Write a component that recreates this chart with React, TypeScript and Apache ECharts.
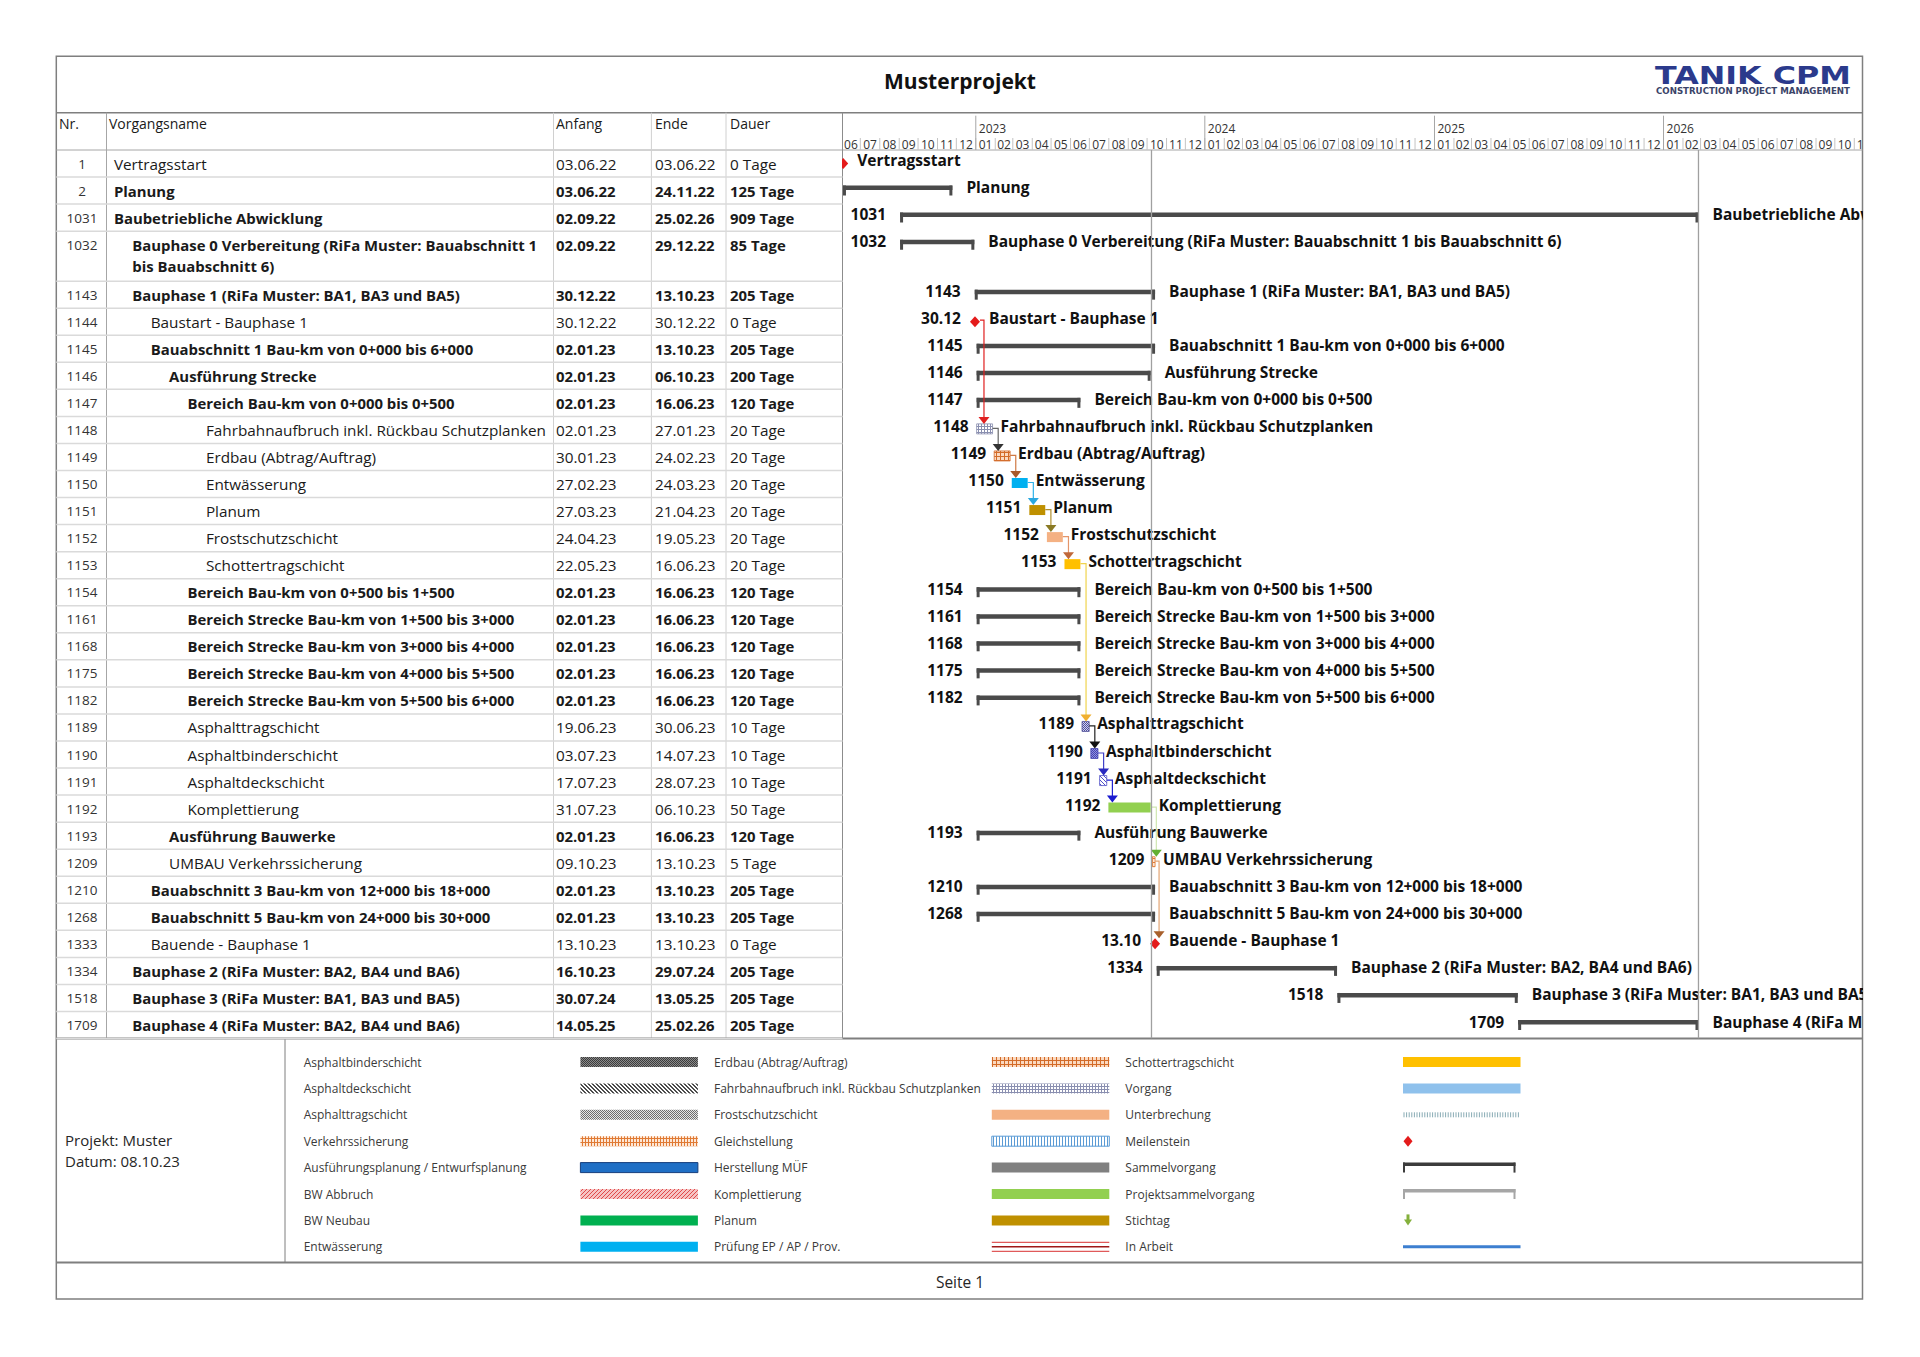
import React, { useEffect, useRef } from 'react';
import * as echarts from 'echarts';

// ---------------- data ----------------
const taskIds = ['1', '2', '1031', '1032', '1143', '1144', '1145', '1146', '1147', '1148', '1149', '1150', '1151', '1152', '1153', '1154', '1161', '1168', '1175', '1182', '1189', '1190', '1191', '1192', '1193', '1209', '1210', '1268', '1333', '1334', '1518', '1709'];
const taskNames = [
  'Vertragsstart',
  'Planung',
  'Baubetriebliche Abwicklung',
  'Bauphase 0 Verbereitung (RiFa Muster: Bauabschnitt 1\nbis Bauabschnitt 6)',
  'Bauphase 1 (RiFa Muster: BA1, BA3 und BA5)',
  'Baustart - Bauphase 1',
  'Bauabschnitt 1 Bau-km von 0+000 bis 6+000',
  'Ausführung Strecke',
  'Bereich Bau-km von 0+000 bis 0+500',
  'Fahrbahnaufbruch inkl. Rückbau Schutzplanken',
  'Erdbau (Abtrag/Auftrag)',
  'Entwässerung',
  'Planum',
  'Frostschutzschicht',
  'Schottertragschicht',
  'Bereich Bau-km von 0+500 bis 1+500',
  'Bereich Strecke Bau-km von 1+500 bis 3+000',
  'Bereich Strecke Bau-km von 3+000 bis 4+000',
  'Bereich Strecke Bau-km von 4+000 bis 5+500',
  'Bereich Strecke Bau-km von 5+500 bis 6+000',
  'Asphalttragschicht',
  'Asphaltbinderschicht',
  'Asphaltdeckschicht',
  'Komplettierung',
  'Ausführung Bauwerke',
  'UMBAU Verkehrssicherung',
  'Bauabschnitt 3 Bau-km von 12+000 bis 18+000',
  'Bauabschnitt 5 Bau-km von 24+000 bis 30+000',
  'Bauende - Bauphase 1',
  'Bauphase 2 (RiFa Muster: BA2, BA4 und BA6)',
  'Bauphase 3 (RiFa Muster: BA1, BA3 und BA5)',
  'Bauphase 4 (RiFa Muster: BA2, BA4 und BA6)',
];
const taskStarts = ['03.06.22', '03.06.22', '02.09.22', '02.09.22', '30.12.22', '30.12.22', '02.01.23', '02.01.23', '02.01.23', '02.01.23', '30.01.23', '27.02.23', '27.03.23', '24.04.23', '22.05.23', '02.01.23', '02.01.23', '02.01.23', '02.01.23', '02.01.23', '19.06.23', '03.07.23', '17.07.23', '31.07.23', '02.01.23', '09.10.23', '02.01.23', '02.01.23', '13.10.23', '16.10.23', '30.07.24', '14.05.25'];
const taskEnds = ['03.06.22', '24.11.22', '25.02.26', '29.12.22', '13.10.23', '30.12.22', '13.10.23', '06.10.23', '16.06.23', '27.01.23', '24.02.23', '24.03.23', '21.04.23', '19.05.23', '16.06.23', '16.06.23', '16.06.23', '16.06.23', '16.06.23', '16.06.23', '30.06.23', '14.07.23', '28.07.23', '06.10.23', '16.06.23', '13.10.23', '13.10.23', '13.10.23', '13.10.23', '29.07.24', '13.05.25', '25.02.26'];
const taskDurations = ['0 Tage', '125 Tage', '909 Tage', '85 Tage', '205 Tage', '0 Tage', '205 Tage', '200 Tage', '120 Tage', '20 Tage', '20 Tage', '20 Tage', '20 Tage', '20 Tage', '20 Tage', '120 Tage', '120 Tage', '120 Tage', '120 Tage', '120 Tage', '10 Tage', '10 Tage', '10 Tage', '50 Tage', '120 Tage', '5 Tage', '205 Tage', '205 Tage', '0 Tage', '205 Tage', '205 Tage', '205 Tage'];
const outlineLevels = [0, 0, 0, 1, 1, 2, 2, 3, 4, 5, 5, 5, 5, 5, 5, 4, 4, 4, 4, 4, 4, 4, 4, 4, 3, 3, 2, 2, 2, 1, 1, 1];
// M = Meilenstein, S = Sammelvorgang, T = Vorgang
const taskKinds = ['M', 'S', 'S', 'S', 'S', 'M', 'S', 'S', 'S', 'T', 'T', 'T', 'T', 'T', 'T', 'S', 'S', 'S', 'S', 'S', 'T', 'T', 'T', 'T', 'S', 'T', 'S', 'S', 'M', 'S', 'S', 'S'];

const linkPairs = [['1144', '1148'], ['1148', '1149'], ['1149', '1150'], ['1150', '1151'], ['1151', '1152'], ['1152', '1153'], ['1153', '1189'], ['1189', '1190'], ['1190', '1191'], ['1191', '1192'], ['1192', '1209'], ['1209', '1333']];

const yearLabels = ['2022', '2023', '2024', '2025', '2026'];
const monthLabels = ['01', '02', '03', '04', '05', '06', '07', '08', '09', '10', '11', '12'];
const timelineFrom = '01.06.22';
const timelineTo = '01.12.26';
const statusDate = '08.10.23';
const projectEnd = '25.02.26';

const legendNames = [
  'Asphaltbinderschicht', 'Asphaltdeckschicht', 'Asphalttragschicht', 'Verkehrssicherung', 'Ausführungsplanung / Entwurfsplanung', 'BW Abbruch', 'BW Neubau', 'Entwässerung',
  'Erdbau (Abtrag/Auftrag)', 'Fahrbahnaufbruch inkl. Rückbau Schutzplanken', 'Frostschutzschicht', 'Gleichstellung', 'Herstellung MÜF', 'Komplettierung', 'Planum', 'Prüfung EP / AP / Prov.',
  'Schottertragschicht', 'Vorgang', 'Unterbrechung', 'Meilenstein', 'Sammelvorgang', 'Projektsammelvorgang', 'Stichtag', 'In Arbeit',
];

// ---------------- styles ----------------
const legendSwatches = ['asphaltBinder', 'asphaltDeck', 'asphaltTrag', 'verkehr', 'ausfPlan', 'bwAbbruch', '#00b050', '#00b0f0', 'erdbau', 'fahrbahn', '#f4b183', 'gleich', '#808080', '#92d050', '#bf9000', 'pruef', '#ffc000', '#8fc1ec', 'unterbrechung', 'meilenstein', 'sammel', 'projektsammel', 'stichtag', 'inArbeit'];
const barFillById: Record<string, string> = { '1148': 'fahrbahn', '1149': 'erdbau', '1150': '#00b0f0', '1151': '#bf9000', '1152': '#f4b183', '1153': '#ffc000', '1189': 'asphaltTragG', '1190': 'asphaltBinderG', '1191': 'asphaltDeckG', '1192': '#92d050', '1209': 'verkehr' };
const barStrokeById: Record<string, string> = { '1148': '#8a8fb0', '1149': '#d36b28', '1189': '#50509a', '1190': '#4444b0', '1191': '#5050c8', '1209': '#e07a34' };
const linkColors = ['#e02020', '#666666', '#d07a44', '#30b2ea', '#b09030', '#e4956a', '#f0d44e', '#222222', '#4040c8', '#2222d0', '#cfe6b0', '#e3a574'];
const arrowColors = ['#e02020', '#333333', '#a85a2a', '#2aa8e0', '#8a7a24', '#c0683a', '#f0b030', '#111111', '#2a2ac0', '#1a1ad0', '#62b032', '#a8602c'];

const FONT = "'Open Sans', 'Noto Sans', sans-serif";
const DAY = 86400000;
const PX_PER_DAY = 0.6275;
const ORIGIN_PX = 841.5;
const GRID_LEFT = 842.5;
const GRID_RIGHT_X = 1862.5;
const GRID_TOP = 112.7;
const HEADER_H = 37.3;
const ROW_H = 27.05;
const DOUBLE_H = 50;
const START_OFF = 8 / 24;
const END_OFF = 17 / 24;

const parseDate = (s: string) => {
  const [d, m, y] = s.split('.').map(Number);
  return Date.UTC(2000 + y, m - 1, d);
};
const ORIGIN_TS = parseDate(timelineFrom);
const AXIS_MIN = ORIGIN_TS + ((GRID_LEFT - ORIGIN_PX) / PX_PER_DAY) * DAY;
const AXIS_MAX = ORIGIN_TS + ((GRID_RIGHT_X - ORIGIN_PX) / PX_PER_DAY) * DAY;

const rowHeights = taskNames.map((n) => (n.indexOf('\n') >= 0 ? DOUBLE_H : ROW_H));
const rowTops: number[] = [];
let accH = 0;
rowHeights.forEach((h) => {
  rowTops.push(accH);
  accH += h;
});
const TOTAL_H = accH;

function tile(w: number, h: number, bg: string, fg: string, pts: number[][]) {
  const c = document.createElement('canvas');
  c.width = w;
  c.height = h;
  const ctx = c.getContext('2d');
  if (ctx) {
    ctx.fillStyle = bg;
    ctx.fillRect(0, 0, w, h);
    ctx.fillStyle = fg;
    pts.forEach((p) => ctx.fillRect(p[0], p[1], p[2] || 1, p[3] || 1));
  }
  return { image: c, repeat: 'repeat', imageWidth: w, imageHeight: h };
}

export default function App() {
  const ref = useRef<HTMLDivElement>(null);

  useEffect(() => {
    if (!ref.current) return;
    const chart = echarts.init(ref.current, undefined, { renderer: 'svg' });

    const P: Record<string, any> = {
      fahrbahn: tile(3, 3, '#ffffff', '#8a8fb0', [[0, 0, 3, 1], [0, 0, 1, 3]]),
      erdbau: tile(4, 4, '#fbd9c0', '#d36b28', [[0, 0, 4, 1], [0, 0, 1, 4]]),
      verkehr: tile(3, 4, '#fde7d6', '#e07a34', [[0, 0, 1, 4], [0, 2, 3, 1]]),
      asphaltBinder: tile(2, 2, '#8a8a8a', '#3c3c3c', [[0, 0], [1, 1]]),
      asphaltDeck: tile(4, 4, '#ffffff', '#4d4d4d', [[0, 0], [1, 1], [2, 2], [3, 3], [1, 0], [2, 1], [3, 2], [0, 3]]),
      asphaltTrag: tile(2, 2, '#e6e6e6', '#6e6e6e', [[0, 0], [1, 1]]),
      bwAbbruch: tile(4, 4, '#f6c3c3', '#e04a4a', [[3, 0], [2, 1], [1, 2], [0, 3]]),
      gleich: tile(3, 1, '#ffffff', '#5b9bd5', [[0, 0]]),
      asphaltTragG: tile(2, 2, '#d0d0f0', '#50509a', [[0, 0], [1, 1]]),
      asphaltBinderG: tile(2, 2, '#9090e0', '#4444b0', [[0, 0], [1, 1]]),
      asphaltDeckG: tile(4, 4, '#ffffff', '#5050c8', [[0, 0], [1, 1], [2, 2], [3, 3]]),
    };
    const fillOf = (key: string) => (key.charAt(0) === '#' ? key : P[key]);

    const txt = (x: number, y: number, text: string, font: string, align = 'left', fill = '#1a1a1a', extra: any = {}) => ({
      type: 'text',
      x,
      y,
      style: { text, font, fill, textAlign: align, textVerticalAlign: 'middle', ...extra },
    });

    // ---- header months (tick labels) ----
    const headerData: number[][] = [];
    const y0 = 2000 + Number(timelineFrom.split('.')[2]);
    const m0 = Number(timelineFrom.split('.')[1]) - 1;
    const endTs = parseDate(timelineTo);
    for (let y = y0, m = m0; Date.UTC(y, m, 1) < endTs; m === 11 ? (y++, (m = 0)) : m++) {
      headerData.push([Date.UTC(y, m, 1), -HEADER_H, Date.UTC(y, m + 1, 1), 0, m, y - y0]);
    }

    // ---- gantt data ----
    const taskTime = (i: number) => {
      const k = taskKinds[i];
      if (k === 'M') {
        const t = parseDate(taskStarts[i]) + END_OFF * DAY;
        return [t, t];
      }
      return [parseDate(taskStarts[i]) + START_OFF * DAY, parseDate(taskEnds[i]) + END_OFF * DAY];
    };
    const ganttData = taskIds.map((_, i) => {
      const [s, e] = taskTime(i);
      return [s, rowTops[i], e, rowTops[i], i];
    });
    const linkData = linkPairs.map(([a, b], k) => {
      const ia = taskIds.indexOf(a);
      const ib = taskIds.indexOf(b);
      return [taskTime(ia)[1], rowTops[ia], taskTime(ib)[0], rowTops[ib], k, taskKinds[ia] === 'M' ? 1 : 0, taskKinds[ib] === 'M' ? 1 : 0];
    });
    const markerData = [
      [parseDate(statusDate), 0, 0],
      [parseDate(projectEnd) + END_OFF * DAY, 0, 1],
    ];
    const tableData = taskIds.map((_, i) => [AXIS_MIN, rowTops[i], rowTops[i] + rowHeights[i], i]);

    const boldF = `bold 15.5px ${FONT}`;

    const series: any[] = [
      {
        type: 'custom',
        name: 'timescale',
        clip: true,
        z: 2,
        data: headerData,
        renderItem: (p: any, api: any) => {
          const xs = api.coord([api.value(0), 0])[0];
          const xe = api.coord([api.value(2), 0])[0];
          const yTop = api.coord([api.value(0), -HEADER_H])[1];
          const yBot = api.coord([api.value(0), 0])[1];
          const m = api.value(4);
          const ch: any[] = [
            { type: 'line', shape: { x1: xs, y1: yBot - 12, x2: xs, y2: yBot }, style: { stroke: '#c4c4c4', lineWidth: 1 } },
            txt((xs + xe) / 2, yBot - 5.2, monthLabels[m], `12px ${FONT}`, 'center', '#333'),
          ];
          if (m === 0) {
            ch.push({ type: 'line', shape: { x1: xs, y1: yTop + 3, x2: xs, y2: yBot }, style: { stroke: '#a6a6a6', lineWidth: 1 } });
            ch.push(txt(xs + 3, yTop + 15.5, yearLabels[api.value(5)], `12px ${FONT}`, 'left', '#333'));
          }
          return { type: 'group', children: ch };
        },
      },
      {
        type: 'custom',
        name: 'table',
        clip: false,
        z: 2,
        data: tableData,
        renderItem: (p: any, api: any) => {
          const yT = api.coord([AXIS_MIN, api.value(1)])[1];
          const yB = api.coord([AXIS_MIN, api.value(2)])[1];
          const i = api.value(3);
          const bold = taskKinds[i] === 'S';
          const f = bold ? `bold 14.9px ${FONT}` : `15.3px ${FONT}`;
          const multi = rowHeights[i] > ROW_H;
          const yl = yT + 13.5;
          return {
            type: 'group',
            children: [
              txt(82, yl, taskIds[i], `13.5px ${FONT}`, 'center', '#333'),
              multi
                ? txt(113.9 + outlineLevels[i] * 18.4, yl - 10.5, taskNames[i], f, 'left', '#1a1a1a', { lineHeight: 21, textVerticalAlign: 'top' })
                : txt(113.9 + outlineLevels[i] * 18.4, yl, taskNames[i], f),
              txt(556, yl, taskStarts[i], f),
              txt(655, yl, taskEnds[i], f),
              txt(730, yl, taskDurations[i], f),
              { type: 'line', shape: { x1: 56.3, y1: yB, x2: GRID_LEFT, y2: yB }, style: { stroke: '#dadada', lineWidth: 1.5 } },
            ],
          };
        },
      },
      {
        type: 'custom',
        name: 'gantt',
        clip: true,
        z: 3,
        data: ganttData,
        renderItem: (p: any, api: any) => {
          const i = api.value(4);
          const kind = taskKinds[i];
          const a = api.coord([api.value(0), api.value(1)]);
          const b = api.coord([api.value(2), api.value(3)]);
          const yc = a[1] + 13.5;
          const xs = a[0];
          const xe = b[0];
          const ch: any[] = [];
          let lx = 0;
          let rx = 0;
          let lt = taskIds[i];
          let ly = yc - 3.5;
          if (kind === 'S') {
            const c = '#4a4a4a';
            ch.push({ type: 'rect', shape: { x: xs, y: yc - 5, width: xe - xs, height: 4.5 }, style: { fill: c } });
            ch.push({ type: 'rect', shape: { x: xs, y: yc - 5, width: 3, height: 10 }, style: { fill: c } });
            ch.push({ type: 'rect', shape: { x: xe - 3, y: yc - 5, width: 3, height: 10 }, style: { fill: c } });
            lx = xs - 14;
            rx = xe + 14;
          } else if (kind === 'T') {
            const id = taskIds[i];
            ch.push({
              type: 'rect',
              shape: { x: xs, y: yc - 6, width: Math.max(xe - xs, 2), height: 10 },
              style: { fill: fillOf(barFillById[id] || '#8fc1ec'), stroke: barStrokeById[id] || null, lineWidth: 0.8 },
            });
            lx = xs - 8;
            rx = xe + 8;
            ly = yc - 4;
          } else {
            ch.push({ type: 'polygon', shape: { points: [[xs, yc - 5.5], [xs + 5, yc], [xs, yc + 5.5], [xs - 5, yc]] }, style: { fill: '#e41b1b' } });
            lx = xs - 14;
            rx = xs + 14;
            lt = taskStarts[i].slice(0, 5);
          }
          ch.push(txt(lx, ly, lt, boldF, 'right', '#111'));
          ch.push(txt(rx, ly, taskNames[i].replace('\n', ' '), boldF, 'left', '#111'));
          return { type: 'group', children: ch };
        },
      },
      {
        type: 'custom',
        name: 'links',
        clip: true,
        z: 4,
        data: linkData,
        renderItem: (p: any, api: any) => {
          const k = api.value(4);
          const a = api.coord([api.value(0), api.value(1)]);
          const b = api.coord([api.value(2), api.value(3)]);
          const ax = a[0] + (api.value(5) ? 5 : 0);
          const ya = a[1] + 12;
          const ycB = b[1] + 13.5;
          const topB = api.value(6) ? ycB - 5.5 : ycB - 6;
          const xv = Math.max(ax + 4, b[0] + 4);
          return {
            type: 'group',
            children: [
              { type: 'polyline', shape: { points: [[ax, ya], [xv, ya], [xv, topB - 5]] }, style: { stroke: linkColors[k], lineWidth: 1.2, fill: null } },
              { type: 'polygon', shape: { points: [[xv - 5.5, topB - 7], [xv + 5.5, topB - 7], [xv, topB]] }, style: { fill: arrowColors[k] } },
            ],
          };
        },
      },
      {
        type: 'custom',
        name: 'markers',
        clip: true,
        z: 5,
        data: markerData,
        renderItem: (p: any, api: any) => {
          const a = api.coord([api.value(0), 0]);
          const b = api.coord([api.value(0), TOTAL_H]);
          return { type: 'line', shape: { x1: a[0], y1: a[1], x2: b[0], y2: b[1] }, style: { stroke: '#a0a0a0', lineWidth: 1.3 } };
        },
      },
    ];

    // ---- static layout: frame, header, legend ----
    const L = (x1: number, y1: number, x2: number, y2: number, stroke: string, lineWidth = 1) => ({
      type: 'line',
      shape: { x1, y1, x2, y2 },
      style: { stroke, lineWidth },
    });
    const tableBottom = GRID_TOP + HEADER_H + TOTAL_H;
    const hdrF = `14px ${FONT}`;
    const g: any[] = [
      { type: 'rect', shape: { x: 56.3, y: 56.3, width: 1862.5 - 56.3, height: 1299 - 56.3 }, style: { fill: '#ffffff', stroke: '#7f7f7f', lineWidth: 1.5 } },
      L(56.3, GRID_TOP, 1862.5, GRID_TOP, '#7f7f7f', 1.5),
      L(56.3, GRID_TOP + HEADER_H, 1862.5, GRID_TOP + HEADER_H, '#a6a6a6', 1),
      L(106.5, GRID_TOP, 106.5, tableBottom, '#a6a6a6', 1),
      L(553.5, GRID_TOP, 553.5, tableBottom, '#d0d0d0', 1),
      L(651.4, GRID_TOP, 651.4, tableBottom, '#d0d0d0', 1),
      L(726, GRID_TOP, 726, tableBottom, '#d0d0d0', 1),
      L(GRID_LEFT, GRID_TOP, GRID_LEFT, tableBottom, '#8c8c8c', 1),
      L(56.3, tableBottom, 1862.5, tableBottom, '#7f7f7f', 2),
      L(56.3, 1262.5, 1862.5, 1262.5, '#7f7f7f', 2),
      L(285, tableBottom, 285, 1262.5, '#7f7f7f', 1),
      txt(960, 81, 'Musterprojekt', `bold 21px ${FONT}`, 'center', '#111'),
      { type: 'text', x: 1655, y: 75.5, scaleX: 1.27, style: { text: 'TANIK CPM', font: "bold 25px 'DejaVu Sans', sans-serif", fill: '#2b3a8c', textAlign: 'left', textVerticalAlign: 'middle' } },
      { type: 'text', x: 1656, y: 91.5, scaleX: 1.08, style: { text: 'CONSTRUCTION PROJECT MANAGEMENT', font: "bold 8px 'DejaVu Sans', sans-serif", fill: '#3b4468', textAlign: 'left', textVerticalAlign: 'middle' } },
      txt(59, 123.5, 'Nr.', hdrF, 'left', '#1a1a1a'),
      txt(109, 123.5, 'Vorgangsname', hdrF, 'left', '#1a1a1a'),
      txt(556, 123.5, 'Anfang', hdrF, 'left', '#1a1a1a'),
      txt(655, 123.5, 'Ende', hdrF, 'left', '#1a1a1a'),
      txt(730, 123.5, 'Dauer', hdrF, 'left', '#1a1a1a'),
      txt(65, 1140, 'Projekt: Muster', `15px ${FONT}`, 'left', '#262626'),
      txt(65, 1161, 'Datum: 08.10.23', `15px ${FONT}`, 'left', '#262626'),
      txt(960, 1282, 'Seite 1', `15.5px ${FONT}`, 'center', '#262626'),
    ];

    const colLabelX = [303.7, 714, 1125.3];
    const colSwX = [580.4, 991.8, 1403];
    const swW = 117.5;
    legendNames.forEach((name, k) => {
      const col = Math.floor(k / 8);
      const row = k % 8;
      const y = 1062 + row * 26.4;
      g.push(txt(colLabelX[col], y, name, `12px ${FONT}`, 'left', '#3a3a3a'));
      const x = colSwX[col];
      const key = legendSwatches[k];
      if (key === 'meilenstein') {
        g.push({ type: 'polygon', shape: { points: [[x + 5, y - 5.5], [x + 9.5, y], [x + 5, y + 5.5], [x + 0.5, y]] }, style: { fill: '#e41b1b' } });
      } else if (key === 'sammel' || key === 'projektsammel') {
        const c = key === 'sammel' ? '#3c3c3c' : '#a6a6a6';
        g.push({ type: 'rect', shape: { x, y: y - 5, width: swW - 5, height: 3.5 }, style: { fill: c } });
        g.push({ type: 'rect', shape: { x, y: y - 5, width: 2, height: 10 }, style: { fill: c } });
        g.push({ type: 'rect', shape: { x: x + swW - 7, y: y - 5, width: 2, height: 10 }, style: { fill: c } });
      } else if (key === 'stichtag') {
        g.push({ type: 'rect', shape: { x: x + 3.5, y: y - 6, width: 3, height: 6 }, style: { fill: '#84b03c' } });
        g.push({ type: 'polygon', shape: { points: [[x + 1, y - 1], [x + 9, y - 1], [x + 5, y + 5]] }, style: { fill: '#84b03c' } });
      } else if (key === 'inArbeit') {
        g.push({ type: 'rect', shape: { x, y: y - 1.5, width: swW, height: 3 }, style: { fill: '#3d7fd0' } });
      } else if (key === 'unterbrechung') {
        for (let xx = x + 1; xx < x + swW; xx += 2.6) g.push(L(xx, y - 2.5, xx, y + 2.5, '#7aa2ac', 0.9));
      } else if (key === 'pruef') {
        g.push({ type: 'rect', shape: { x, y: y - 5, width: swW, height: 10 }, style: { fill: '#ffffff' } });
        g.push(L(x, y - 4.5, x + swW, y - 4.5, '#e05a5a', 1.2));
        g.push(L(x, y, x + swW, y, '#a01818', 1.5));
        g.push(L(x, y + 4.5, x + swW, y + 4.5, '#e05a5a', 1.2));
      } else if (key === 'ausfPlan') {
        g.push({ type: 'rect', shape: { x, y: y - 5, width: swW, height: 10 }, style: { fill: '#1f6fc5', stroke: '#163e7c', lineWidth: 1 } });
      } else if (key === 'gleich') {
        g.push({ type: 'rect', shape: { x, y: y - 5, width: swW, height: 10 }, style: { fill: P.gleich, stroke: '#5b9bd5', lineWidth: 1 } });
      } else {
        g.push({ type: 'rect', shape: { x, y: y - 5, width: swW, height: 10 }, style: { fill: fillOf(key) } });
      }
    });

    const option: any = {
      animation: false,
      backgroundColor: '#ffffff',
      grid: { left: GRID_LEFT, top: GRID_TOP, width: GRID_RIGHT_X - GRID_LEFT, height: HEADER_H + TOTAL_H, containLabel: false },
      xAxis: { type: 'time', min: AXIS_MIN, max: AXIS_MAX, show: false },
      yAxis: { type: 'value', min: -HEADER_H, max: TOTAL_H, inverse: true, show: false },
      graphic: { elements: g },
      series,
    };
    chart.setOption(option);
    return () => chart.dispose();
  }, []);

  return <div ref={ref} style={{ position: 'fixed', left: 0, top: 0, width: 1920, height: 1357, background: '#fff' }} />;
}
